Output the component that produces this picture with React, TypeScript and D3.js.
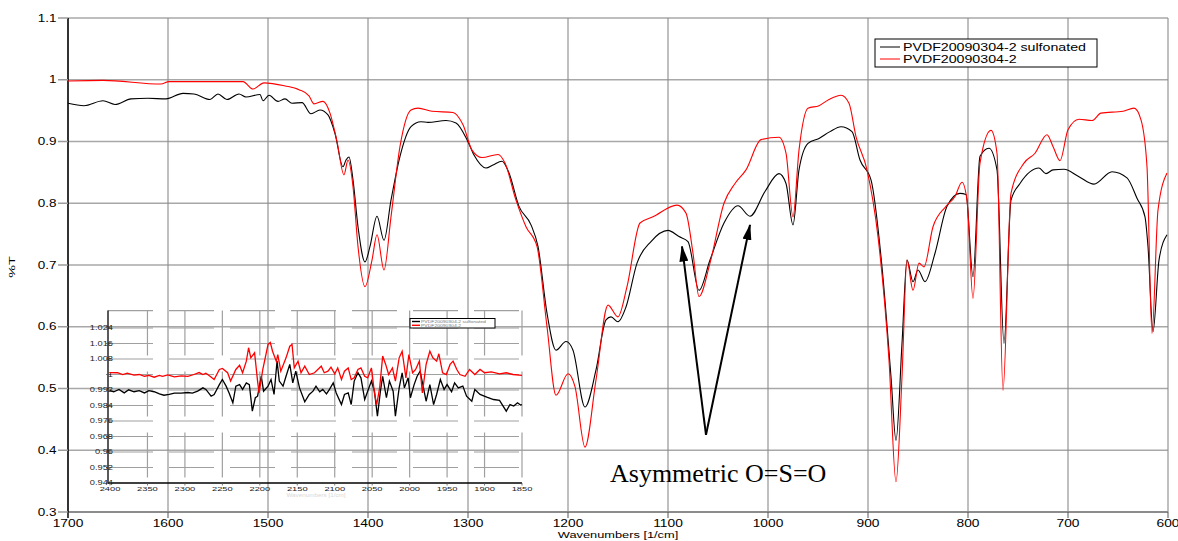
import React from 'react';
import * as d3 from 'd3';

const W = 1178;
const H = 541;

// main spectrum - sulfonated sample (black)
const sulfWn = [1700, 1684, 1665, 1653, 1637, 1620, 1602, 1585, 1574, 1558, 1550, 1541, 1529, 1522, 1508, 1505, 1499, 1490, 1483, 1476, 1466, 1457, 1448, 1440, 1433, 1425, 1422, 1419, 1415, 1410, 1403, 1398, 1391, 1384, 1377, 1368, 1357, 1347, 1340, 1322, 1312, 1301, 1294, 1282, 1275, 1266, 1259, 1249, 1237, 1230, 1221, 1212, 1202, 1195, 1183, 1172, 1162, 1157, 1150, 1142, 1131, 1117, 1100, 1089, 1080, 1069, 1058, 1044, 1030, 1018, 1003, 989, 982, 975, 969, 960, 949, 938, 927, 916, 908, 897, 886, 877, 872, 866, 861, 855, 850, 843, 833, 821, 808, 802, 795, 788, 779, 771, 764, 757, 748, 729, 722, 715, 704, 689, 674, 656, 641, 631, 623, 620, 615, 609, 601];
const sulfT = [0.962, 0.958, 0.966, 0.96, 0.969, 0.97, 0.969, 0.978, 0.977, 0.968, 0.977, 0.968, 0.977, 0.972, 0.976, 0.966, 0.975, 0.965, 0.969, 0.962, 0.963, 0.945, 0.951, 0.943, 0.913, 0.859, 0.87, 0.875, 0.838, 0.762, 0.705, 0.73, 0.779, 0.74, 0.805, 0.876, 0.924, 0.932, 0.931, 0.934, 0.93, 0.903, 0.878, 0.857, 0.862, 0.868, 0.849, 0.795, 0.765, 0.73, 0.622, 0.562, 0.576, 0.562, 0.47, 0.53, 0.611, 0.616, 0.608, 0.632, 0.703, 0.738, 0.756, 0.746, 0.738, 0.659, 0.708, 0.768, 0.796, 0.779, 0.819, 0.848, 0.832, 0.765, 0.854, 0.897, 0.905, 0.916, 0.924, 0.916, 0.87, 0.838, 0.697, 0.519, 0.416, 0.573, 0.708, 0.673, 0.692, 0.673, 0.719, 0.795, 0.816, 0.814, 0.681, 0.876, 0.889, 0.854, 0.573, 0.805, 0.832, 0.857, 0.848, 0.854, 0.855, 0.843, 0.831, 0.851, 0.841, 0.808, 0.778, 0.73, 0.592, 0.708, 0.749];

// main spectrum - PVDF (red)
const pvdfWn = [1700, 1665, 1607, 1599, 1560, 1525, 1515, 1504, 1483, 1469, 1459, 1454, 1445, 1438, 1431, 1424, 1420, 1415, 1410, 1403, 1396, 1391, 1384, 1377, 1368, 1357, 1350, 1336, 1315, 1305, 1296, 1286, 1270, 1263, 1252, 1242, 1231, 1221, 1212, 1200, 1193, 1183, 1172, 1160, 1150, 1141, 1128, 1115, 1091, 1082, 1075, 1069, 1058, 1044, 1033, 1022, 1007, 989, 982, 975, 969, 960, 949, 939, 927, 919, 912, 901, 890, 879, 872, 866, 861, 855, 849, 844, 835, 822, 813, 806, 801, 795, 788, 777, 771, 765, 757, 744, 733, 721, 715, 708, 700, 689, 676, 667, 645, 634, 627, 621, 616, 610, 601];
const pvdfT = [0.998, 0.999, 0.993, 0.997, 0.997, 0.997, 0.985, 0.995, 0.99, 0.984, 0.974, 0.961, 0.965, 0.946, 0.9, 0.846, 0.87, 0.827, 0.73, 0.665, 0.708, 0.749, 0.692, 0.778, 0.892, 0.951, 0.954, 0.949, 0.947, 0.927, 0.886, 0.874, 0.879, 0.865, 0.805, 0.762, 0.73, 0.6, 0.489, 0.524, 0.503, 0.405, 0.514, 0.635, 0.616, 0.665, 0.768, 0.778, 0.797, 0.784, 0.719, 0.649, 0.703, 0.8, 0.832, 0.854, 0.903, 0.907, 0.881, 0.778, 0.886, 0.954, 0.958, 0.968, 0.975, 0.962, 0.908, 0.854, 0.746, 0.546, 0.349, 0.519, 0.708, 0.659, 0.703, 0.697, 0.762, 0.795, 0.811, 0.834, 0.805, 0.646, 0.865, 0.918, 0.881, 0.497, 0.816, 0.865, 0.881, 0.911, 0.892, 0.869, 0.919, 0.936, 0.934, 0.946, 0.949, 0.954, 0.935, 0.859, 0.589, 0.789, 0.849];

// inset (2400-1850 cm-1), sulfonated
const insetSulfWn = [2400, 2395, 2388, 2381, 2375, 2368, 2361, 2354, 2348, 2341, 2334, 2328, 2321, 2314, 2305, 2296, 2290, 2283, 2276, 2272, 2265, 2261, 2254, 2250, 2245, 2241, 2236, 2232, 2227, 2223, 2218, 2214, 2210, 2206, 2203, 2198, 2195, 2189, 2185, 2181, 2177, 2174, 2169, 2165, 2160, 2156, 2152, 2147, 2140, 2134, 2129, 2125, 2120, 2116, 2111, 2107, 2102, 2098, 2091, 2087, 2082, 2078, 2074, 2069, 2065, 2060, 2056, 2051, 2047, 2043, 2039, 2036, 2031, 2027, 2022, 2019, 2014, 2010, 2007, 2002, 1999, 1994, 1990, 1986, 1982, 1978, 1973, 1968, 1964, 1959, 1954, 1950, 1944, 1940, 1935, 1929, 1924, 1917, 1913, 1906, 1897, 1888, 1880, 1871, 1866, 1861, 1856, 1852, 1850];
const insetSulfT = [0.9917, 0.9911, 0.9923, 0.9905, 0.9921, 0.9911, 0.9917, 0.9905, 0.9917, 0.9911, 0.99, 0.9893, 0.9897, 0.9904, 0.9904, 0.9907, 0.9904, 0.9914, 0.9931, 0.9923, 0.9888, 0.9897, 0.9948, 0.9974, 0.994, 0.9905, 0.9854, 0.994, 0.9948, 0.9923, 0.9957, 0.9948, 0.9811, 0.988, 0.9888, 0.9991, 0.9914, 0.994, 0.9974, 0.9897, 1.0069, 0.9966, 0.994, 0.9991, 1.0052, 0.9957, 1.0017, 0.9931, 0.9859, 0.9897, 0.9914, 0.994, 0.9911, 0.9923, 0.99, 0.9923, 0.9957, 0.9905, 0.9845, 0.9897, 0.9905, 0.9845, 0.9966, 1.0009, 0.9983, 0.9871, 0.9914, 0.9966, 0.9914, 0.9785, 0.9914, 0.9991, 0.988, 0.9966, 0.9914, 0.9785, 0.9931, 1.0009, 0.9931, 0.9983, 0.988, 0.9948, 0.9991, 1.0017, 0.994, 0.9862, 0.9948, 0.9845, 0.9897, 0.9974, 0.9923, 0.9948, 0.9911, 0.9957, 0.9931, 0.994, 0.9888, 0.9862, 0.9923, 0.9897, 0.9883, 0.9871, 0.9866, 0.9811, 0.9845, 0.9837, 0.9854, 0.9842, 0.9845];

// inset, PVDF
const insetPvdfWn = [2400, 2390, 2383, 2377, 2368, 2361, 2354, 2348, 2341, 2334, 2330, 2323, 2314, 2305, 2296, 2288, 2281, 2276, 2272, 2266, 2261, 2254, 2250, 2243, 2239, 2232, 2227, 2223, 2218, 2215, 2212, 2207, 2203, 2201, 2196, 2189, 2186, 2183, 2178, 2176, 2172, 2165, 2160, 2157, 2154, 2149, 2145, 2140, 2134, 2127, 2118, 2114, 2109, 2105, 2100, 2096, 2091, 2087, 2082, 2078, 2074, 2069, 2065, 2060, 2056, 2051, 2047, 2044, 2040, 2036, 2032, 2028, 2023, 2019, 2014, 2010, 2005, 2001, 1996, 1992, 1987, 1983, 1978, 1973, 1969, 1964, 1961, 1956, 1951, 1946, 1942, 1937, 1933, 1926, 1920, 1913, 1906, 1900, 1891, 1880, 1871, 1862, 1850];
const insetPvdfT = [1.001, 1.0009, 1.0, 1.0007, 0.9997, 1.0, 0.9991, 0.9995, 0.9986, 0.9995, 0.999, 0.9998, 0.9988, 0.9993, 0.999, 1.0, 1.001, 1.0, 1.0007, 0.999, 0.9974, 1.0026, 1.0031, 1.0009, 0.9966, 1.0026, 1.0048, 1.0009, 1.0069, 1.0138, 1.0086, 1.0112, 0.9966, 0.9905, 1.0026, 1.0155, 1.0165, 1.012, 1.0069, 1.0103, 1.0017, 1.0086, 1.0146, 1.0155, 1.0034, 1.0069, 1.0009, 1.0043, 1.0, 1.0009, 1.0043, 1.0009, 1.0017, 1.0038, 1.0003, 1.0034, 0.9974, 1.0017, 1.0034, 0.9974, 0.9983, 1.0026, 1.0034, 0.9991, 0.9983, 1.0034, 0.9905, 0.9845, 0.9931, 1.0095, 1.0052, 1.0, 1.0034, 0.9966, 1.0086, 1.012, 0.9983, 1.0103, 1.0009, 1.0026, 1.0069, 0.9905, 1.0052, 1.012, 1.0086, 1.0069, 1.0107, 1.0009, 1.0, 1.0052, 1.0069, 1.0026, 1.0, 0.9991, 1.0026, 1.0, 1.0026, 1.0009, 1.0014, 1.0003, 1.0009, 1.0, 0.9995];

const xTicks = [1700, 1600, 1500, 1400, 1300, 1200, 1100, 1000, 900, 800, 700, 600];
const yTicks = [0.3, 0.4, 0.5, 0.6, 0.7, 0.8, 0.9, 1, 1.1];
const yTickLabels = ['0.3', '0.4', '0.5', '0.6', '0.7', '0.8', '0.9', '1', '1.1'];
const insetXTicks = [2400, 2350, 2300, 2250, 2200, 2150, 2100, 2050, 2000, 1950, 1900, 1850];
const insetYTicks = [0.944, 0.952, 0.96, 0.968, 0.976, 0.984, 0.992, 1, 1.008, 1.016, 1.024];
const insetYTickLabels = ['0.944', '0.952', '0.96', '0.968', '0.976', '0.984', '0.992', '1', '1.008', '1.016', '1.024'];
const seriesNames = ['PVDF20090304-2 sulfonated', 'PVDF20090304-2'];
const seriesColors = ['#000000', '#ff0000'];

// annotation: arrows start at a common point and point to the two bands
const arrowFrom = { wn: 1062, t: 0.425 };
const arrowTo = [{ wn: 1086, t: 0.73 }, { wn: 1018, t: 0.765 }];
const noteText = 'Asymmetric O=S=O';
const noteAt = { wn: 1158, t: 0.348 };

const FONT = '"Liberation Sans", Arial, sans-serif';

// the original picture is stretched sideways, so text is too
const SText = ({ x, y, sx = 1.35, size = 10, anchor = 'middle', fill = '#000', children }: any) => (
    <text
        transform={`translate(${x},${y}) scale(${sx},1)`}
        textAnchor={anchor}
        fontSize={size}
        fontFamily={FONT}
        fill={fill}
    >
        {children}
    </text>
);

const App = () => {
    const x = d3.scaleLinear().domain([1700, 600]).range([68, 1168]);
    const y = d3.scaleLinear().domain([0.3, 1.1]).range([512, 18]);

    const ix = d3.scaleLinear().domain([2400, 1850]).range([110, 522]);
    const iy = d3.scaleLinear().domain([0.944, 1.024]).range([483, 328]);
    const iTop = iy(1.033);
    const iLeft = 108;

    const mainPath = (wn: number[], t: number[]) =>
        d3.line<number>()
            .x((_, i) => x(wn[i]))
            .y(d => y(d))
            .curve(d3.curveMonotoneX)(t) || '';

    const insetPath = (wn: number[], t: number[]) =>
        d3.line<number>()
            .x((_, i) => ix(wn[i]))
            .y(d => iy(d))(t) || '';

    return (
        <svg width={W} height={H} style={{ position: 'absolute', left: 0, top: 0, background: '#fff' }}>
            <defs>
                <marker id="ah" viewBox="0 0 16 9" refX="15" refY="4.5" markerWidth="16" markerHeight="9"
                    markerUnits="userSpaceOnUse" orient="auto">
                    <path d="M0,0L16,4.5L0,9z" fill="#000" />
                </marker>
            </defs>

            {/* main grid */}
            {yTicks.slice(1).map(v => (
                <line key={'gy' + v} x1={x(1700)} x2={x(600)} y1={y(v)} y2={y(v)} stroke="#a8a8a8" strokeWidth={1.5} />
            ))}
            {xTicks.slice(1).map(v => (
                <line key={'gx' + v} x1={x(v)} x2={x(v)} y1={y(1.1)} y2={y(0.3)} stroke="#8a8a8a" strokeWidth={1.1} />
            ))}

            {/* inset grid */}
            {[...insetYTicks.slice(1), 1.033].map(v => (
                <line key={'igy' + v} x1={iLeft} x2={ix(1850)} y1={iy(v)} y2={iy(v)} stroke="#a0a0a0" strokeWidth={1.2} strokeDasharray="45 16" />
            ))}
            {insetXTicks.slice(1).map(v => (
                <line key={'igx' + v} x1={ix(v)} x2={ix(v)} y1={iTop} y2={iy(0.944)} stroke="#a0a0a0" strokeWidth={1.2} strokeDasharray="45 16" />
            ))}

            {/* inset axes */}
            <line x1={iLeft} x2={iLeft} y1={iTop} y2={iy(0.944)} stroke="#000" strokeWidth={1.3} />
            <line x1={iLeft} x2={ix(1850)} y1={iy(0.944)} y2={iy(0.944)} stroke="#000" strokeWidth={1.3} />
            {insetYTicks.map((v, i) => (
                <g key={'iyt' + v}>
                    <line x1={iLeft - 2} x2={iLeft + 3} y1={iy(v)} y2={iy(v)} stroke="#555" strokeWidth={0.8} />
                    <SText x={113} y={iy(v) + 2.3} size={6.4} sx={1.45} anchor="end" fill="#222">{insetYTickLabels[i]}</SText>
                </g>
            ))}
            {insetXTicks.map(v => (
                <g key={'ixt' + v}>
                    <line x1={ix(v)} x2={ix(v)} y1={iy(0.944)} y2={iy(0.944) + 2.5} stroke="#555" strokeWidth={0.8} />
                    <SText x={ix(v)} y={491} size={6.2} sx={1.5} fill="#222">{v}</SText>
                </g>
            ))}
            <SText x={316} y={497} size={4.5} sx={1.4} fill="#d8d8d8">Wavenumbers [1/cm]</SText>

            {/* inset series */}
            <path d={insetPath(insetSulfWn, insetSulfT)} fill="none" stroke={seriesColors[0]} strokeWidth={1.3} />
            <path d={insetPath(insetPvdfWn, insetPvdfT)} fill="none" stroke={seriesColors[1]} strokeWidth={1.3} />

            {/* inset legend */}
            <rect x={410} y={318.5} width={85} height={9.5} fill="#fff" stroke="#000" strokeWidth={1} />
            {seriesNames.map((n, i) => (
                <g key={'il' + n}>
                    <line x1={412} x2={420} y1={321.5 + i * 3.8} y2={321.5 + i * 3.8} stroke={seriesColors[i]} strokeWidth={1.4} />
                    <SText x={421} y={323 + i * 3.8} size={3.6} sx={1.4} anchor="start" fill="#777">{n}</SText>
                </g>
            ))}

            {/* main axes */}
            <line x1={x(1700)} x2={x(600)} y1={y(0.3)} y2={y(0.3)} stroke="#8c8c8c" strokeWidth={2} />
            <line x1={x(1700)} x2={x(1700)} y1={y(1.1)} y2={y(0.3) + 6} stroke="#000" strokeWidth={1.6} />
            {yTicks.map((v, i) => (
                <g key={'yt' + v}>
                    <line x1={x(1700) - 10} x2={x(1700)} y1={y(v)} y2={y(v)} stroke="#9a9a9a" strokeWidth={1.5} />
                    <SText x={56.5} y={y(v) + 3.6} anchor="end">{yTickLabels[i]}</SText>
                </g>
            ))}
            {xTicks.map(v => (
                <g key={'xt' + v}>
                    <line x1={x(v)} x2={x(v)} y1={y(0.3)} y2={y(0.3) + 6} stroke="#555" strokeWidth={1} />
                    <SText x={x(v)} y={527} size={10.2}>{v}</SText>
                </g>
            ))}
            <SText x={618} y={538} size={9.5}>Wavenumbers [1/cm]</SText>
            <text transform="translate(15,267) rotate(-90) scale(1.6,1)" textAnchor="middle" fontSize={9} fontFamily={FONT}>%T</text>

            {/* main series */}
            <path d={mainPath(sulfWn, sulfT)} fill="none" stroke={seriesColors[0]} strokeWidth={1.1} />
            <path d={mainPath(pvdfWn, pvdfT)} fill="none" stroke={seriesColors[1]} strokeWidth={1.1} />

            {/* legend */}
            <rect x={875} y={39} width={222} height={28} fill="#fff" stroke="#000" strokeWidth={1} />
            {seriesNames.map((n, i) => (
                <g key={'lg' + n}>
                    <line x1={880} x2={900} y1={47 + i * 12} y2={47 + i * 12} stroke={seriesColors[i]} strokeWidth={1} />
                    <SText x={903} y={50.5 + i * 12} anchor="start" sx={1.42}>{n}</SText>
                </g>
            ))}

            {/* annotation */}
            {arrowTo.map((p, i) => (
                <line key={'ar' + i} x1={x(arrowFrom.wn)} y1={y(arrowFrom.t)} x2={x(p.wn)} y2={y(p.t)}
                    stroke="#000" strokeWidth={2} markerEnd="url(#ah)" />
            ))}
            <text x={x(noteAt.wn)} y={y(noteAt.t)} fontSize={26} fontFamily='"Liberation Serif", "Times New Roman", serif' fill="#000">
                {noteText}
            </text>
        </svg>
    );
};

export default App;
